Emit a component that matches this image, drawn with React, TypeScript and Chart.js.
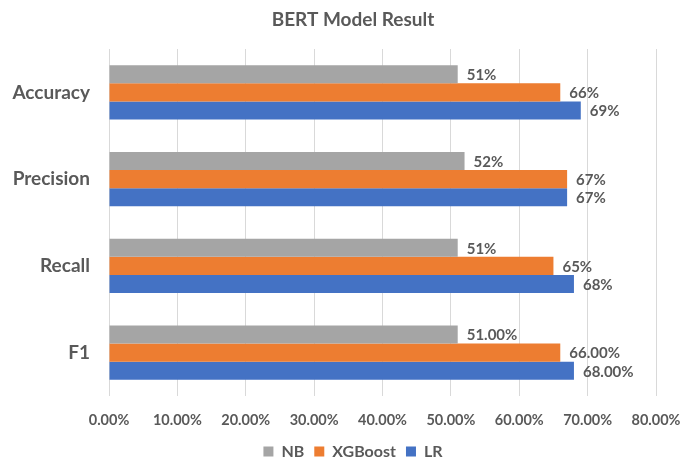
import React, { useEffect, useRef } from "react";
import { Chart, registerables } from "chart.js";

Chart.register(...registerables);

const categories = ["Accuracy", "Precision", "Recall", "F1"];
const seriesNames = ["NB", "XGBoost", "LR"];
const nbValues = [0.51, 0.52, 0.51, 0.51];
const xgbValues = [0.66, 0.67, 0.65, 0.66];
const lrValues = [0.69, 0.67, 0.68, 0.68];
const labelDecimals = [0, 0, 0, 2];
const seriesColors = ["#A5A5A5", "#ED7D31", "#4472C4"];
const titleText = "BERT Model Result";

const TEXT = "#595959";
const FONT = "Lato, 'Open Sans', sans-serif";

const dataLabelPlugin = {
  id: "dataLabels",
  afterDatasetsDraw(chart: any) {
    const ctx = chart.ctx;
    ctx.save();
    ctx.font = `bold 15px ${FONT}`;
    ctx.fillStyle = TEXT;
    ctx.textAlign = "left";
    ctx.textBaseline = "middle";
    chart.data.datasets.forEach((ds: any, di: number) => {
      const meta = chart.getDatasetMeta(di);
      meta.data.forEach((el: any, i: number) => {
        const v = ds.data[i] as number;
        const txt = (v * 100).toFixed(labelDecimals[i]) + "%";
        ctx.fillText(txt, el.x + 9, el.y + 1);
      });
    });
    ctx.restore();
  },
};

export default function App() {
  const ref = useRef<HTMLCanvasElement | null>(null);
  useEffect(() => {
    if (!ref.current) return;
    const values = [nbValues, xgbValues, lrValues];
    const chart = new Chart(ref.current, {
      type: "bar",
      data: {
        labels: categories,
        datasets: seriesNames.map((name, k) => ({
          label: name,
          data: values[k],
          backgroundColor: seriesColors[k],
          borderWidth: 0,
          categoryPercentage: 0.625,
          barPercentage: 1,
          yAxisID: "y",
        })),
      },
      options: {
        indexAxis: "y",
        animation: false,
        responsive: true,
        maintainAspectRatio: false,
        layout: { padding: { left: 9, right: 0, top: 0, bottom: -6.5 } },
        plugins: {
          title: {
            display: true,
            text: titleText,
            color: TEXT,
            font: { family: FONT, size: 19, weight: "bold" },
            padding: { top: 8, bottom: 18.2 },
          },
          legend: {
            position: "bottom",
            labels: {
              color: TEXT,
              font: { family: FONT, size: 16, weight: "bold" },
              boxWidth: 10,
              boxHeight: 10,
              padding: 10,
            },
          },
          tooltip: { enabled: false },
        },
        scales: {
          x: {
            min: 0,
            max: 0.8,
            ticks: {
              stepSize: 0.1,
              color: TEXT,
              font: { family: FONT, size: 14.5, weight: "bold" },
              padding: 16,
              callback: (v: any) => (Number(v) * 100).toFixed(2) + "%",
            },
            grid: { color: "#D9D9D9", drawTicks: false, lineWidth: 1 },
            border: { display: false },
            afterFit: (scale: any) => {
              scale.height = 37.5;
            },
          },
          y: {
            ticks: {
              color: TEXT,
              font: { family: FONT, size: 19, weight: "bold" },
              padding: 19,
            },
            grid: { display: false, drawTicks: false },
            border: { display: false },
            afterFit: (scale: any) => {
              scale.width = 100;
            },
          },
          y2: {
            type: "category",
            position: "right",
            labels: categories,
            ticks: { display: false },
            grid: { display: false, drawTicks: false },
            border: { display: false },
            afterFit: (scale: any) => {
              scale.width = 41;
            },
          },
        },
      },
      plugins: [dataLabelPlugin],
    });
    return () => chart.destroy();
  }, []);
  return (
    <div style={{ position: "absolute", left: 0, top: 0, width: 697, height: 463, background: "#fff" }}>
      <canvas ref={ref} />
    </div>
  );
}
